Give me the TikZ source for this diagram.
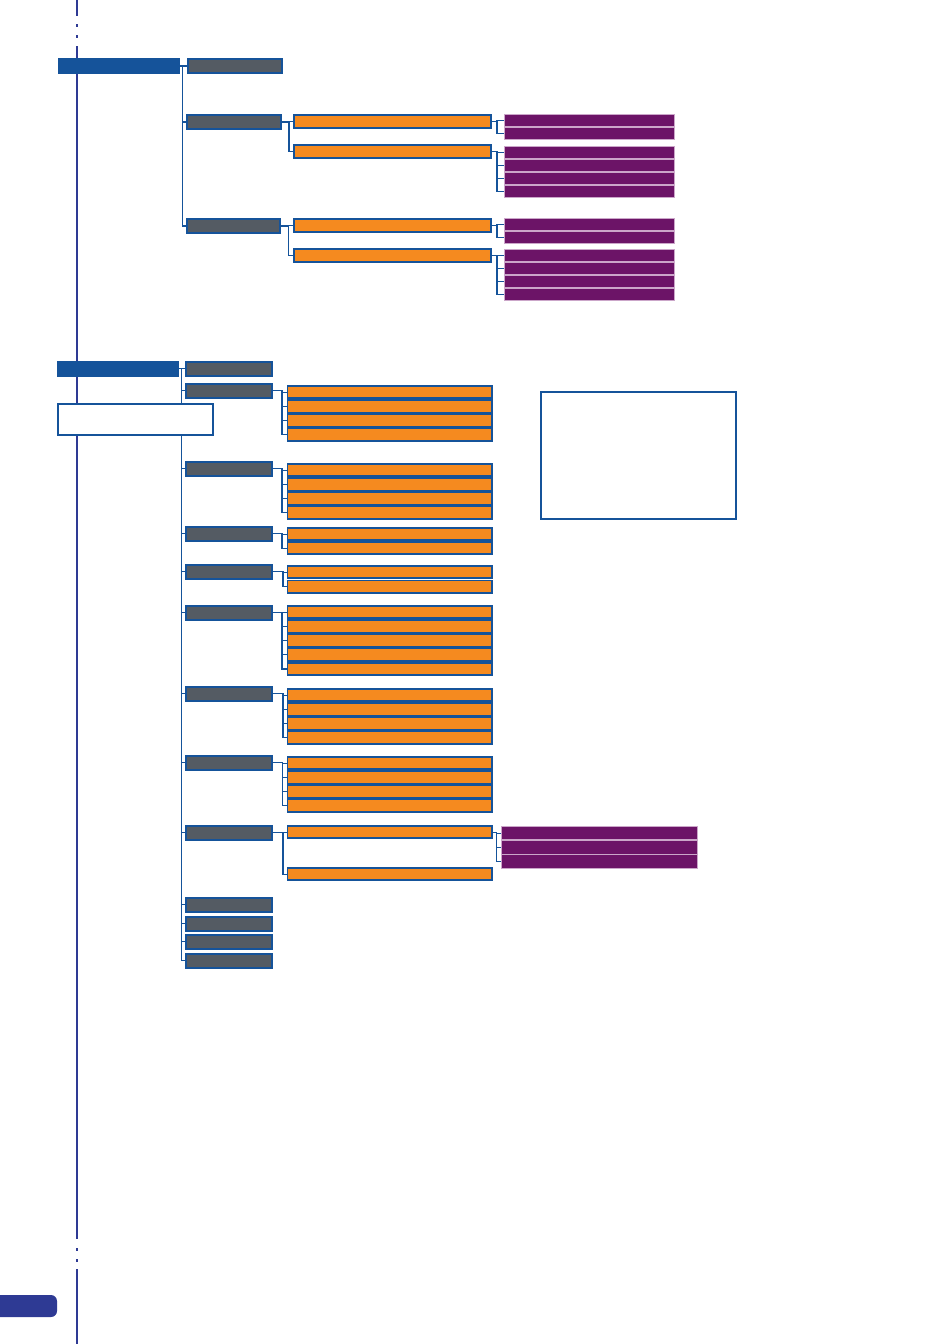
\documentclass[tikz,border=0pt]{standalone}
\usepackage{xcolor}
\usepackage{tikz}
\usetikzlibrary{positioning,calc}
\definecolor{mnblue}{HTML}{15539A}
\definecolor{mngray}{HTML}{545B63}
\definecolor{mnorange}{HTML}{F58A1F}
\definecolor{mnpurple}{HTML}{6C1467}
\definecolor{mnpink}{HTML}{CBA6C9}
\definecolor{mnspine}{HTML}{2E3A94}
\tikzset{
  hdr/.style={rectangle, fill=mnblue, inner sep=0pt, outer sep=0pt,
              minimum width=122pt, minimum height=15.5pt, anchor=north west},
  menu/.style={rectangle, draw=mnblue, fill=mngray, line width=2pt,
               inner sep=0pt, minimum height=13.5pt, anchor=north west},
  opt/.style={rectangle, draw=mnblue, fill=mnorange, line width=1.8pt,
              inner sep=0pt, minimum height=12.4pt, anchor=north west},
  sub/.style={rectangle, draw=mnpink, fill=mnpurple, line width=0.8pt,
              inner sep=0pt, minimum height=12.2pt, anchor=north west},
  note/.style={rectangle, draw=mnblue, fill=white, line width=2pt,
               inner sep=0pt, anchor=north west},
  link/.style={draw=mnblue, line width=1.2pt},
  spine/.style={draw=mnspine, line width=2pt},
}

\begin{document}
\begin{tikzpicture}[x=1pt,y=-1pt]
\useasboundingbox (0,0) rectangle (950,1344);

% column x-origins
\def\ua{186}\def\ub{293}\def\uc{504}
\def\xa{57}\def\xb{185}\def\xc{286.5}\def\xd{501}

% ---------- spine ----------
\draw[spine] (77,0) -- (77,16);
\draw[spine] (77,24) -- (77,27); \draw[spine] (77,35) -- (77,38);
\draw[spine] (77,46) -- (77,1239);
\draw[spine] (77,1248) -- (77,1251); \draw[spine] (77,1259) -- (77,1262);
\draw[spine] (77,1269) -- (77,1344);
\fill[mnspine] (0,1295) [rounded corners=6pt] -- (57,1295) -- (57,1317)
  [sharp corners] -- (0,1317) -- cycle;

% ---------- section 1 ----------
\node[hdr,minimum height=16pt] (h1) at (58,58) {};
\node[menu,minimum width=93.5pt,minimum height=14pt] (m1) at (\ua+1,58) {};
\node[menu,minimum width=94pt,minimum height=14pt] (m2) at (\ua,114) {};
\node[menu,minimum width=93pt,minimum height=14pt] (m3) at (\ua,218) {};

\node[opt,minimum width=197.2pt,minimum height=13.2pt] (o1) at (\ub,114) {};
\node[opt,minimum width=197.2pt,minimum height=13.2pt] (o2) at (\ub,144) {};
\node[opt,minimum width=197.2pt,minimum height=13.2pt] (o3) at (\ub,218) {};
\node[opt,minimum width=197.2pt,minimum height=13.2pt] (o4) at (\ub,248) {};

\node[sub,minimum width=170.2pt] (s1a) at (\uc,114) {};
\node[sub,minimum width=170.2pt] (s1b) at (\uc,127) {};
\node[sub,minimum width=170.2pt] (s2a) at (\uc,146) {};
\node[sub,minimum width=170.2pt] (s2b) at (\uc,159) {};
\node[sub,minimum width=170.2pt] (s2c) at (\uc,172) {};
\node[sub,minimum width=170.2pt] (s2d) at (\uc,185) {};
\node[sub,minimum width=170.2pt] (s3a) at (\uc,218) {};
\node[sub,minimum width=170.2pt] (s3b) at (\uc,231) {};
\node[sub,minimum width=170.2pt] (s4a) at (\uc,249) {};
\node[sub,minimum width=170.2pt] (s4b) at (\uc,262) {};
\node[sub,minimum width=170.2pt] (s4c) at (\uc,275) {};
\node[sub,minimum width=170.2pt] (s4d) at (\uc,288) {};

\draw[link] (h1.east) -- ++(2.5,0) |- (m1.west);
\draw[link] (h1.east) -- ++(2.5,0) |- (m2.west);
\draw[link] (h1.east) -- ++(2.5,0) |- (m3.west);
\draw[link] (m2.east) -- ++(7,0) |- (o1.west); \draw[link] (m2.east) -- ++(7,0) |- (o2.west);
\draw[link] (m3.east) -- ++(7.5,0) |- (o3.west); \draw[link] (m3.east) -- ++(7.5,0) |- (o4.west);
\draw[link] (o1.east) -- ++(5,0) |- (s1a.west); \draw[link] (o1.east) -- ++(5,0) |- (s1b.west);
\draw[link] (o2.east) -- ++(5,0) |- (s2a.west); \draw[link] (o2.east) -- ++(5,0) |- (s2b.west);
\draw[link] (o2.east) -- ++(5,0) |- (s2c.west); \draw[link] (o2.east) -- ++(5,0) |- (s2d.west);
\draw[link] (o3.east) -- ++(5,0) |- (s3a.west); \draw[link] (o3.east) -- ++(5,0) |- (s3b.west);
\draw[link] (o4.east) -- ++(5,0) |- (s4a.west); \draw[link] (o4.east) -- ++(5,0) |- (s4b.west);
\draw[link] (o4.east) -- ++(5,0) |- (s4c.west); \draw[link] (o4.east) -- ++(5,0) |- (s4d.west);

% ---------- section 2 ----------
\node[hdr] (h2) at (\xa,361) {};
\node[menu,minimum width=86pt] (n1) at (\xb,361) {};
\node[menu,minimum width=86pt] (n2) at (\xb,383) {};
\node[menu,minimum width=86pt] (n3) at (\xb,461) {};
\node[menu,minimum width=86pt] (n4) at (\xb,526) {};
\node[menu,minimum width=86pt] (n5) at (\xb,564) {};
\node[menu,minimum width=86pt] (n6) at (\xb,605) {};
\node[menu,minimum width=86pt] (n7) at (\xb,686) {};
\node[menu,minimum width=86pt] (n8) at (\xb,755) {};
\node[menu,minimum width=86pt] (n9) at (\xb,825) {};
\node[menu,minimum width=86pt] (n10) at (\xb,897) {};
\node[menu,minimum width=86pt] (n11) at (\xb,916) {};
\node[menu,minimum width=86pt] (n12) at (\xb,934) {};
\node[menu,minimum width=86pt] (n13) at (\xb,953) {};

\node[opt,minimum width=204.7pt] (q2a) at (\xc,385) {};
\node[opt,minimum width=204.7pt] (q2b) at (\xc,399.2) {};
\node[opt,minimum width=204.7pt] (q2c) at (\xc,413.4) {};
\node[opt,minimum width=204.7pt] (q2d) at (\xc,427.6) {};
\node[opt,minimum width=204.7pt] (q3a) at (\xc,463) {};
\node[opt,minimum width=204.7pt] (q3b) at (\xc,477.2) {};
\node[opt,minimum width=204.7pt] (q3c) at (\xc,491.4) {};
\node[opt,minimum width=204.7pt] (q3d) at (\xc,505.6) {};
\node[opt,minimum width=204.7pt] (q4a) at (\xc,527) {};
\node[opt,minimum width=204.7pt] (q4b) at (\xc,541) {};
\node[opt,minimum width=204.7pt] (q5a) at (\xc,565) {};
\node[opt,minimum width=204.7pt] (q5b) at (\xc,579.5) {};
\node[opt,minimum width=204.7pt] (q6a) at (\xc,605) {};
\node[opt,minimum width=204.7pt] (q6b) at (\xc,619.2) {};
\node[opt,minimum width=204.7pt] (q6c) at (\xc,633.4) {};
\node[opt,minimum width=204.7pt] (q6d) at (\xc,647.6) {};
\node[opt,minimum width=204.7pt] (q6e) at (\xc,661.8) {};
\node[opt,minimum width=204.7pt] (q7a) at (\xc,688) {};
\node[opt,minimum width=204.7pt] (q7b) at (\xc,702.2) {};
\node[opt,minimum width=204.7pt] (q7c) at (\xc,716.4) {};
\node[opt,minimum width=204.7pt] (q7d) at (\xc,730.6) {};
\node[opt,minimum width=204.7pt] (q8a) at (\xc,756) {};
\node[opt,minimum width=204.7pt] (q8b) at (\xc,770.2) {};
\node[opt,minimum width=204.7pt] (q8c) at (\xc,784.4) {};
\node[opt,minimum width=204.7pt] (q8d) at (\xc,798.6) {};
\node[opt,minimum width=204.7pt] (q9a) at (\xc,825) {};
\node[opt,minimum width=204.7pt] (q9b) at (\xc,867) {};

\node[sub,minimum width=196.2pt,minimum height=13.4pt] (t9a) at (\xd,826) {};
\node[sub,minimum width=196.2pt,minimum height=13.4pt] (t9b) at (\xd,840.2) {};
\node[sub,minimum width=196.2pt,minimum height=13.4pt] (t9c) at (\xd,854.4) {};

\draw[link] (h2.east) -- ++(2.5,0) |- (n1.west);
\draw[link] (h2.east) -- ++(2.5,0) |- (n2.west);  \draw[link] (h2.east) -- ++(2.5,0) |- (n3.west);
\draw[link] (h2.east) -- ++(2.5,0) |- (n4.west);  \draw[link] (h2.east) -- ++(2.5,0) |- (n5.west);
\draw[link] (h2.east) -- ++(2.5,0) |- (n6.west);  \draw[link] (h2.east) -- ++(2.5,0) |- (n7.west);
\draw[link] (h2.east) -- ++(2.5,0) |- (n8.west);  \draw[link] (h2.east) -- ++(2.5,0) |- (n9.west);
\draw[link] (h2.east) -- ++(2.5,0) |- (n10.west); \draw[link] (h2.east) -- ++(2.5,0) |- (n11.west);
\draw[link] (h2.east) -- ++(2.5,0) |- (n12.west); \draw[link] (h2.east) -- ++(2.5,0) |- (n13.west);

\draw[link] (n2.east) -- ++(9,0) |- (q2a.west); \draw[link] (n2.east) -- ++(9,0) |- (q2b.west);
\draw[link] (n2.east) -- ++(9,0) |- (q2c.west); \draw[link] (n2.east) -- ++(9,0) |- (q2d.west);
\draw[link] (n3.east) -- ++(9,0) |- (q3a.west); \draw[link] (n3.east) -- ++(9,0) |- (q3b.west);
\draw[link] (n3.east) -- ++(9,0) |- (q3c.west); \draw[link] (n3.east) -- ++(9,0) |- (q3d.west);
\draw[link] (n4.east) -- ++(9,0) |- (q4a.west); \draw[link] (n4.east) -- ++(9,0) |- (q4b.west);
\draw[link] (n5.east) -- ++(10,0) |- (q5a.west); \draw[link] (n5.east) -- ++(10,0) |- (q5b.west);
\draw[link] (n6.east) -- ++(9,0) |- (q6a.west); \draw[link] (n6.east) -- ++(9,0) |- (q6b.west);
\draw[link] (n6.east) -- ++(9,0) |- (q6c.west); \draw[link] (n6.east) -- ++(9,0) |- (q6d.west);
\draw[link] (n6.east) -- ++(9,0) |- (q6e.west);
\draw[link] (n7.east) -- ++(10,0) |- (q7a.west); \draw[link] (n7.east) -- ++(10,0) |- (q7b.west);
\draw[link] (n7.east) -- ++(10,0) |- (q7c.west); \draw[link] (n7.east) -- ++(10,0) |- (q7d.west);
\draw[link] (n8.east) -- ++(9.5,0) |- (q8a.west); \draw[link] (n8.east) -- ++(9.5,0) |- (q8b.west);
\draw[link] (n8.east) -- ++(9.5,0) |- (q8c.west); \draw[link] (n8.east) -- ++(9.5,0) |- (q8d.west);
\draw[link] (n9.east) -- ++(10,0) |- (q9a.west); \draw[link] (n9.east) -- ++(10,0) |- (q9b.west);
\draw[link] (q9a.east) -- ++(3.5,0) |- (t9a.west); \draw[link] (q9a.east) -- ++(3.5,0) |- (t9b.west);
\draw[link] (q9a.east) -- ++(3.5,0) |- (t9c.west);

% ---------- boxes ----------
\node[note,minimum width=155pt,minimum height=31pt] (note) at (\xa,403) {};
\node[note,minimum width=195pt,minimum height=127pt] (panel) at (540,391) {};
\end{tikzpicture}
\end{document}
